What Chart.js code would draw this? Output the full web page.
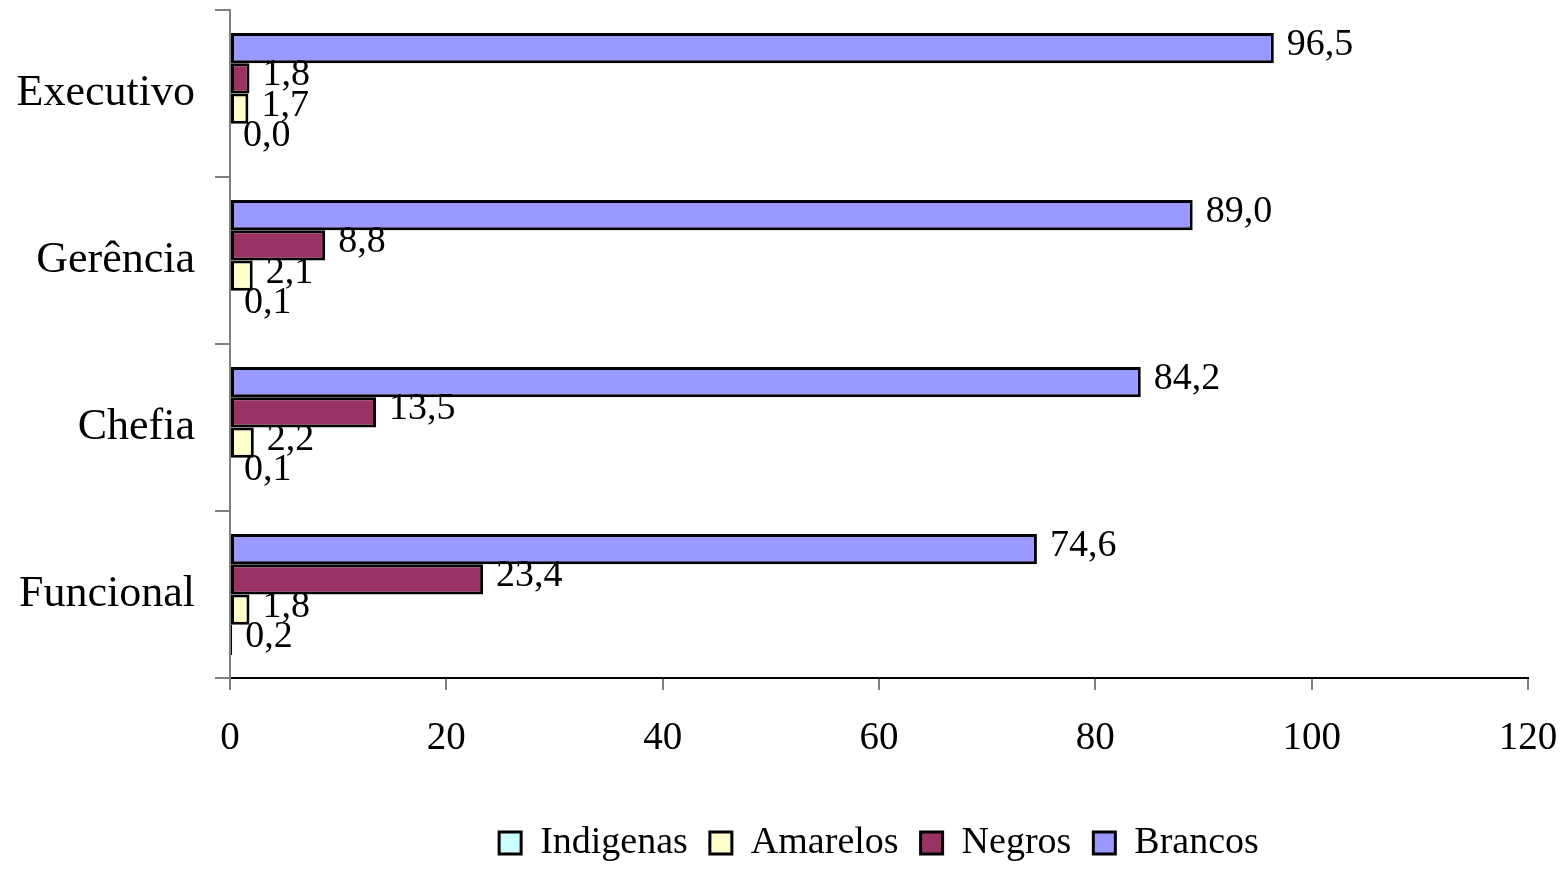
<!DOCTYPE html>
<html>
<head>
<meta charset="utf-8">
<script src="https://cdn.jsdelivr.net/npm/chart.js@4.4.1/dist/chart.umd.min.js"></script>
<style>
  html, body { margin: 0; padding: 0; background: #fff; }
  #wrap { width: 1567px; height: 872px; }
</style>
</head>
<body>
<div id="wrap"><canvas id="myChart" width="1567" height="872"></canvas></div>
<script>
const categories = ['Executivo', 'Gerência', 'Chefia', 'Funcional'];
const brancos = [96.5, 89.0, 84.2, 74.6];
const negros = [1.8, 8.8, 13.5, 23.4];
const amarelos = [1.7, 2.1, 2.2, 1.8];
const indigenas = [0.0, 0.1, 0.1, 0.2];
const xTicks = [0, 20, 40, 60, 80, 100, 120];

const serif = 'Liberation Serif';

// value labels drawn at the end of each bar
const valueLabels = {
    id: 'valueLabels',
    afterDatasetsDraw(chart) {
        const ctx = chart.ctx;
        ctx.save();
        ctx.font = '38px "' + serif + '"';
        ctx.fillStyle = '#000';
        ctx.textAlign = 'left';
        ctx.textBaseline = 'middle';
        chart.data.datasets.forEach(function (ds, i) {
            const meta = chart.getDatasetMeta(i);
            meta.data.forEach(function (bar, j) {
                const txt = ds.data[j].toFixed(1).replace('.', ',');
                ctx.fillText(txt, bar.x + 13, bar.y - 3);
            });
        });
        ctx.restore();
    }
};

new Chart(document.getElementById('myChart'), {
    type: 'bar',
    data: {
        labels: categories,
        datasets: [
            { label: 'Brancos', data: brancos, backgroundColor: '#9999FF' },
            { label: 'Negros', data: negros, backgroundColor: '#993366' },
            { label: 'Amarelos', data: amarelos, backgroundColor: '#FFFFCC' },
            { label: 'Indigenas', data: indigenas, backgroundColor: '#CCFFFF' }
        ].map(function (d) {
            d.borderColor = '#000';
            d.borderWidth = 3;
            d.borderSkipped = false;
            d.categoryPercentage = 0.725;
            d.barPercentage = 1.0;
            return d;
        })
    },
    options: {
        indexAxis: 'y',
        responsive: false,
        animation: false,
        layout: { padding: { top: 10, right: 39, left: 0, bottom: 0 } },
        plugins: {
            tooltip: { enabled: false },
            legend: {
                position: 'bottom',
                fullSize: false,
                reverse: true,
                labels: {
                    color: '#000',
                    boxWidth: 22,
                    boxHeight: 22,
                    padding: 22,
                    font: { family: serif, size: 38 }
                }
            }
        },
        scales: {
            x: {
                min: 0,
                max: 120,
                afterBuildTicks: function (scale) {
                    scale.ticks = xTicks.map(function (v) { return { value: v }; });
                },
                afterFit: function (scale) {
                    scale.height = 124;
                    scale.paddingLeft = 0;
                    scale.paddingRight = 0;
                },
                border: { color: '#000', width: 2 },
                grid: { drawOnChartArea: false, tickLength: 12, color: '#808080', lineWidth: 2 },
                ticks: { color: '#000', padding: 25, maxRotation: 0, font: { family: serif, size: 39 } }
            },
            y: {
                afterFit: function (scale) {
                    scale.width = 230;
                    scale.paddingTop = 0;
                    scale.paddingBottom = 0;
                },
                border: { color: '#808080', width: 2 },
                grid: { drawOnChartArea: false, tickLength: 15, color: '#808080', lineWidth: 2, offset: true },
                ticks: { color: '#000', padding: 20, font: { family: serif, size: 44 } }
            }
        }
    },
    plugins: [valueLabels]
});
</script>
</body>
</html>
